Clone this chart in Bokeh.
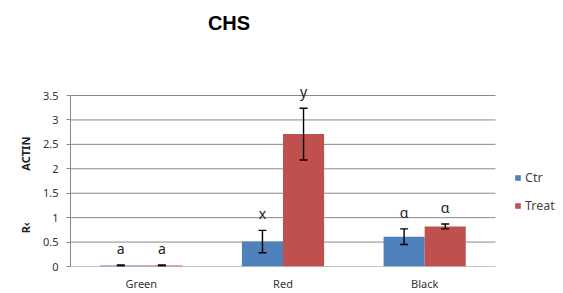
from bokeh.plotting import figure
from bokeh.models import (Range1d, FixedTicker, Legend, LegendItem, Label,
                          ColumnDataSource, Whisker, TeeHead)
from bokeh.core.properties import value
from bokeh.embed import file_html
from bokeh.resources import INLINE

categories = ["Green", "Red", "Black"]
series = ["Ctr", "Treat"]
ctr_vals = [0.02, 0.51, 0.61]
ctr_err = [0.01, 0.23, 0.16]
treat_vals = [0.02, 2.71, 0.82]
treat_err = [0.01, 0.53, 0.05]
ctr_letters = ["a", "x", "α"]
treat_letters = ["a", "y", "α"]
y_ticks = [0, 0.5, 1, 1.5, 2, 2.5, 3, 3.5]
y_tick_labels = ["0", "0.5", "1", "1.5", "2", "2.5", "3", "3.5"]
title_text = "CHS"

BLUE = "#4F81BD"
RED = "#C0504D"
GRID = "#898989"
FONT = "Noto Sans"
NB = "\u00a0"

ncat = len(categories)
ymax = y_ticks[-1]
# frame covers the legend (right) and title (top) areas so they sit inside it
p = figure(frame_width=491, frame_height=266, output_backend="svg", title=None,
           toolbar_location=None, x_range=Range1d(0, ncat * 491 / 425),
           y_range=Range1d(0, ymax * 266 / 171),
           min_border_left=70, min_border_right=0, min_border_top=0,
           min_border_bottom=27)
p.outline_line_color = None
p.background_fill_color = "white"
p.border_fill_color = "white"

p.add_layout(Label(x=ncat * 158.5 / 425, y=ymax * 244 / 171, text=title_text,
                   text_align="center", text_baseline="middle",
                   text_font="Liberation Sans", text_font_size="20px",
                   text_font_style="bold", text_color="black"))

# gridlines limited to the category area
p.segment(x0=[0] * len(y_ticks), x1=[ncat] * len(y_ticks), y0=y_ticks, y1=y_ticks,
          line_color=GRID, line_width=1)

bw = 0.29
xc = [i + 0.5 - bw / 2 for i in range(ncat)]
xt = [i + 0.5 + bw / 2 for i in range(ncat)]

src_c = ColumnDataSource(dict(x=xc, top=ctr_vals, up=[v + e for v, e in zip(ctr_vals, ctr_err)],
                              lo=[v - e for v, e in zip(ctr_vals, ctr_err)], t=ctr_letters))
src_t = ColumnDataSource(dict(x=xt, top=treat_vals, up=[v + e for v, e in zip(treat_vals, treat_err)],
                              lo=[v - e for v, e in zip(treat_vals, treat_err)], t=treat_letters))

rc = p.vbar(x="x", top="top", width=bw, source=src_c, fill_color=BLUE, line_color=None)
rt = p.vbar(x="x", top="top", width=bw, source=src_t, fill_color=RED, line_color=None)

for s in (src_c, src_t):
    w = Whisker(base="x", upper="up", lower="lo", source=s, line_color="black", line_width=1.4,
                level="overlay",
                upper_head=TeeHead(size=8, line_color="black", line_width=1.4),
                lower_head=TeeHead(size=8, line_color="black", line_width=1.4))
    p.add_layout(w)
    p.text(x="x", y="up", text="t", source=s, text_align="center", text_baseline="bottom",
           y_offset=-7, text_font=value(FONT), text_font_size="14px", text_color="#222222")

# axes
p.xaxis.ticker = FixedTicker(ticks=[i + 0.5 for i in range(ncat)])
p.xaxis.major_label_overrides = {i + 0.5: c for i, c in enumerate(categories)}
p.xaxis.major_tick_line_color = None
p.xaxis.major_tick_out = 0
p.xaxis.major_tick_in = 0
p.xaxis.minor_tick_line_color = None
p.xaxis.axis_line_color = None
p.xaxis.major_label_text_font = FONT
p.xaxis.major_label_text_font_size = "11px"
p.xaxis.major_label_text_color = "#333333"
p.xaxis.major_label_standoff = 9

p.yaxis.ticker = FixedTicker(ticks=y_ticks)
p.yaxis.bounds = (0, ymax)
p.yaxis.major_label_overrides = {t: l for t, l in zip(y_ticks, y_tick_labels)}
p.yaxis.minor_tick_line_color = None
p.yaxis.major_tick_out = 4
p.yaxis.major_tick_in = 0
p.yaxis.major_tick_line_color = GRID
p.yaxis.axis_line_color = GRID
p.yaxis.major_label_text_font = FONT
p.yaxis.major_label_text_font_size = "11px"
p.yaxis.major_label_text_color = "#333333"
p.yaxis.major_label_standoff = 8
p.yaxis.axis_label = "R‹" + NB * 18 + "ACTIN" + NB * 36
p.yaxis.axis_label_text_font = FONT
p.yaxis.axis_label_text_font_size = "11px"
p.yaxis.axis_label_text_font_style = "bold"
p.yaxis.axis_label_text_color = "#222222"
p.yaxis.axis_label_standoff = 7

p.xgrid.grid_line_color = None
p.ygrid.grid_line_color = None

legend = Legend(items=[LegendItem(label=series[0], renderers=[rc]),
                       LegendItem(label=series[1], renderers=[rt])],
                location=(444, 52), glyph_width=7, glyph_height=7,
                label_text_font=FONT, label_text_font_size="12.5px",
                label_standoff=4, spacing=11, padding=2, margin=0,
                border_line_color=None, background_fill_alpha=0)
p.add_layout(legend)

open("out.html", "w").write(file_html(p, INLINE))
